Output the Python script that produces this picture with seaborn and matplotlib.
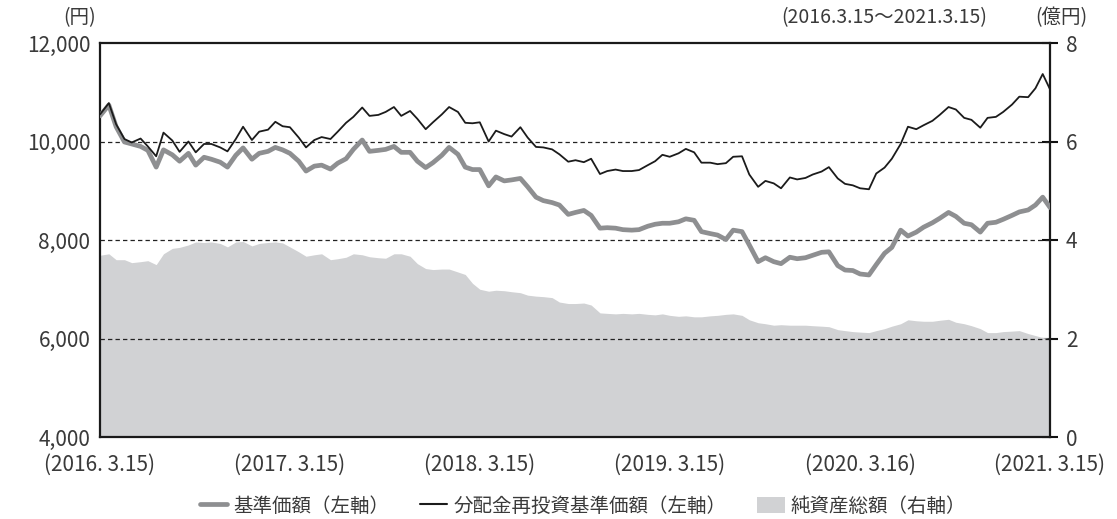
import matplotlib
matplotlib.use("Agg")
import matplotlib.pyplot as plt
from matplotlib.lines import Line2D
from matplotlib.patches import Patch
import pandas as pd
import seaborn as sns


# semi-monthly sampling, 2016-03-15 .. 2021-03-15
DATES = pd.date_range("2016-03-15", "2021-03-15", freq="SMS")

# 分配金再投資基準価額 (円)
REINVESTED = [
    10550, 10780, 10350, 10050, 9980, 10060, 9900, 9700, 10180, 10020,
    9790, 10000, 9780, 9950, 9950, 9880, 9800, 10050, 10300, 10030,
    10200, 10240, 10400, 10310, 10290, 10080, 9880, 10030, 10090, 10050,
    10200, 10380, 10500, 10690, 10520, 10540, 10600, 10700, 10520, 10620,
    10460, 10250, 10390, 10550, 10700, 10600, 10380, 10370, 10390, 10000,
    10220, 10150, 10100, 10290, 10080, 9890, 9880, 9840, 9740, 9590,
    9620, 9580, 9650, 9340, 9400, 9430, 9400, 9400, 9420, 9520,
    9600, 9730, 9690, 9760, 9850, 9780, 9570, 9570, 9540, 9560,
    9690, 9700, 9330, 9080, 9200, 9150, 9050, 9270, 9230, 9260,
    9330, 9390, 9480, 9250, 9140, 9110, 9050, 9030, 9350, 9470,
    9650, 9950, 10300, 10250, 10330, 10420, 10540, 10700, 10650, 10480,
    10440, 10280, 10480, 10500, 10600, 10750, 10910, 10900, 11080, 11370,
    11060,
]

# 基準価額 (円)
NAV = [
    10520, 10740, 10300, 9990, 9950, 9900, 9820, 9480, 9830, 9730,
    9600, 9760, 9520, 9680, 9640, 9580, 9480, 9720, 9870, 9640,
    9760, 9800, 9880, 9830, 9760, 9600, 9400, 9500, 9520, 9440,
    9560, 9650, 9840, 10030, 9800, 9820, 9840, 9900, 9780, 9780,
    9600, 9470, 9570, 9720, 9880, 9740, 9480, 9430, 9430, 9100,
    9280, 9200, 9220, 9250, 9080, 8870, 8800, 8760, 8710, 8520,
    8560, 8600, 8500, 8240, 8250, 8240, 8210, 8200, 8210, 8280,
    8320, 8340, 8340, 8370, 8430, 8400, 8170, 8130, 8100, 8010,
    8200, 8170, 7900, 7560, 7640, 7560, 7520, 7650, 7620, 7640,
    7690, 7750, 7760, 7480, 7390, 7380, 7310, 7290, 7500, 7730,
    7850, 8200, 8080, 8160, 8260, 8350, 8440, 8560, 8480, 8340,
    8310, 8160, 8340, 8360, 8420, 8500, 8570, 8610, 8710, 8870,
    8660,
]

# 純資産総額 (億円)
NET_ASSETS = [
    3.69, 3.72, 3.60, 3.60, 3.54, 3.56, 3.58, 3.50, 3.72, 3.83,
    3.85, 3.90, 3.96, 3.95, 3.96, 3.93, 3.86, 3.96, 3.97, 3.88,
    3.93, 3.95, 3.96, 3.94, 3.86, 3.76, 3.67, 3.70, 3.72, 3.60,
    3.62, 3.65, 3.72, 3.70, 3.66, 3.64, 3.63, 3.72, 3.72, 3.67,
    3.52, 3.42, 3.40, 3.41, 3.41, 3.35, 3.30, 3.12, 3.00, 2.96,
    2.98, 2.97, 2.95, 2.93, 2.88, 2.86, 2.85, 2.83, 2.74, 2.71,
    2.71, 2.72, 2.68, 2.52, 2.51, 2.50, 2.51, 2.50, 2.51, 2.49,
    2.48, 2.50, 2.47, 2.45, 2.46, 2.44, 2.44, 2.46, 2.47, 2.49,
    2.50, 2.47, 2.38, 2.32, 2.30, 2.27, 2.28, 2.27, 2.27, 2.27,
    2.26, 2.25, 2.24, 2.18, 2.16, 2.14, 2.13, 2.12, 2.16, 2.20,
    2.25, 2.30, 2.38, 2.36, 2.35, 2.35, 2.37, 2.39, 2.33, 2.30,
    2.26, 2.20, 2.12, 2.12, 2.14, 2.15, 2.16, 2.10, 2.06, 2.02,
    2.00,
]

X_TICKS = ["2016-03-15", "2017-03-15", "2018-03-15", "2019-03-15", "2020-03-16", "2021-03-15"]
X_LABELS = ["(2016. 3.15)", "(2017. 3.15)", "(2018. 3.15)", "(2019. 3.15)", "(2020. 3.16)", "(2021. 3.15)"]
LEFT_TICKS = [4000, 6000, 8000, 10000, 12000]
RIGHT_TICKS = [0, 2, 4, 6, 8]

GRAY_LINE = "#8e8f91"
BLACK_LINE = "#1b1b1b"
AREA = "#d1d2d4"
TEXT = "#3a3a3a"

sns.set_theme(style="white")
plt.rcParams["font.family"] = ["Noto Sans CJK JP", "DejaVu Sans"]

df = pd.DataFrame({"date": DATES, "nav": NAV, "reinvested": REINVESTED, "assets": NET_ASSETS})

fig = plt.figure(figsize=(11.17, 5.19), dpi=100)
ax = fig.add_axes([100 / 1117, 1 - 437 / 519, 950 / 1117, 394 / 519])
ax2 = ax.twinx()
ax.set_zorder(ax2.get_zorder() + 1)
ax.patch.set_visible(False)

# net assets area on the right axis
ax2.fill_between(df["date"], df["assets"], 0, color=AREA, lw=0)
ax2.set_ylim(0, 8)
ax2.set_yticks(RIGHT_TICKS)
ax2.set_yticklabels([str(v) for v in RIGHT_TICKS])
ax2.tick_params(axis="y", direction="inout", length=11, width=1.5, color="#111",
                pad=6, labelsize=15, labelcolor=TEXT, right=True)
for s in ax2.spines.values():
    s.set_visible(False)

for v in [6000, 8000, 10000]:
    ax.axhline(v, color="#222", lw=0.9, ls=(0, (3.5, 2.5)), zorder=1)

sns.lineplot(data=df, x="date", y="nav", ax=ax, color=GRAY_LINE, lw=3.4, zorder=3)
sns.lineplot(data=df, x="date", y="reinvested", ax=ax, color=BLACK_LINE, lw=1.3, zorder=4)

ax.set_xlim(DATES[0], DATES[-1])
ax.set_ylim(4000, 12000)
ax.set_yticks(LEFT_TICKS)
ax.set_yticklabels([f"{v:,}" for v in LEFT_TICKS])
ax.set_xticks(pd.to_datetime(X_TICKS))
ax.set_xticklabels(X_LABELS)
ax.tick_params(axis="y", length=0, pad=7, labelsize=15, labelcolor=TEXT)
ax.tick_params(axis="x", length=0, pad=12, labelsize=15, labelcolor=TEXT)
ax.set_xlabel("")
ax.set_ylabel("")
for s in ax.spines.values():
    s.set_visible(True)
    s.set_color("#1a1a1a")
    s.set_linewidth(1.6)

fig.text(80 / 1117, 1 - 18 / 519, "(円)", ha="center", va="center", fontsize=14, color=TEXT)
fig.text(987 / 1117, 1 - 18 / 519, "(2016.3.15～2021.3.15)", ha="right", va="center", fontsize=14, color=TEXT)
fig.text(1061 / 1117, 1 - 18 / 519, "(億円)", ha="center", va="center", fontsize=14, color=TEXT)

handles = [
    Line2D([], [], color=GRAY_LINE, lw=3.4),
    Line2D([], [], color=BLACK_LINE, lw=1.5),
    Patch(facecolor=AREA, edgecolor="none"),
]
labels = ["基準価額（左軸）", "分配金再投資基準価額（左軸）", "純資産総額（右軸）"]
fig.legend(handles, labels, loc="center", bbox_to_anchor=(583 / 1117, 1 - 506 / 519), ncol=3,
           frameon=False, fontsize=14, handlelength=1.4, handleheight=0.9, handletextpad=0.3,
           columnspacing=1.6, labelcolor=TEXT)

fig.savefig("out.png", dpi=100)
